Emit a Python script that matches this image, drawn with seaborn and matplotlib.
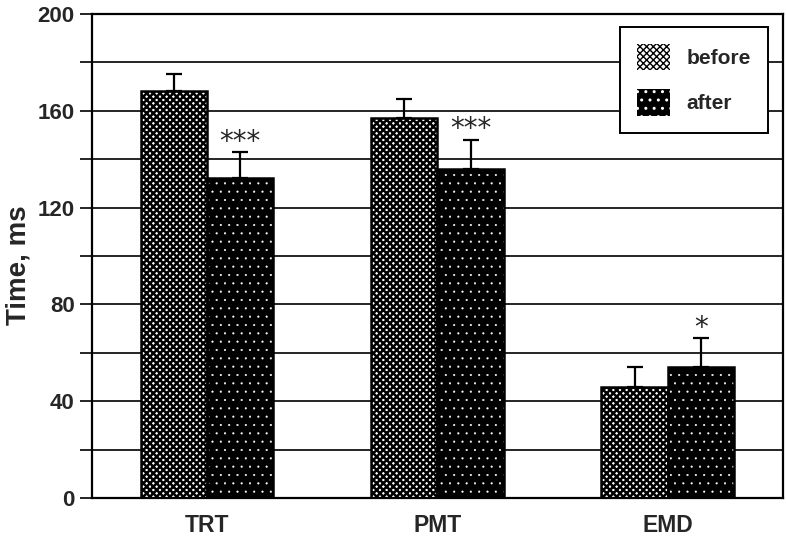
import pandas as pd
import matplotlib.pyplot as plt
import matplotlib.patches as mpatches
import seaborn as sns

measures = ["TRT", "PMT", "EMD"]
conditions = ["before", "after"]
before_means = [168, 157, 46]
after_means = [132, 136, 54]
before_err = [7, 8, 8]
after_err = [11, 12, 12]
stars = ["***", "***", "*"]

data = pd.DataFrame({
    "measure": measures * 2,
    "condition": ["before"] * 3 + ["after"] * 3,
    "time": before_means + after_means,
    "err": before_err + after_err,
})

sns.set_style("white")
plt.rcParams["font.family"] = ["Liberation Sans", "DejaVu Sans"]
plt.rcParams["font.weight"] = "bold"


def style_before(p):
    p.set_facecolor("white")
    p.set_edgecolor("black")
    p.set_hatch("xxxxx")
    if hasattr(p, "set_hatch_linewidth"):
        p.set_hatch_linewidth(1.8)


def style_after(p):
    p.set_facecolor("black")
    p.set_edgecolor("white")
    p.set_hatch("..")
    if hasattr(p, "set_hatch_linewidth"):
        p.set_hatch_linewidth(0.3)


fig = plt.figure(figsize=(7.86, 5.36), dpi=100)
ax = fig.add_axes([0.117, 0.071, 0.879, 0.903])

sns.barplot(data=data, x="measure", y="time", hue="condition", hue_order=conditions,
            order=measures, width=0.575, gap=0, palette=["white", "black"],
            errorbar=None, legend=False, ax=ax, zorder=2)

before_bars = ax.containers[0]
after_bars = ax.containers[1]

for p in before_bars:
    style_before(p)
    p.set_linewidth(0)
for p in after_bars:
    style_after(p)
    p.set_linewidth(0)

# black outlines drawn from each patch's own geometry
for p in list(before_bars) + list(after_bars):
    outline = mpatches.Rectangle(p.get_xy(), p.get_width(), p.get_height(),
                                 fill=False, edgecolor="black", linewidth=1.8, zorder=3)
    ax.add_patch(outline)

# upward error bars only
for bars, errs in [(before_bars, before_err), (after_bars, after_err)]:
    xs = [p.get_x() + p.get_width() / 2 for p in bars]
    ys = [p.get_height() for p in bars]
    ax.errorbar(xs, ys, yerr=[[0] * len(errs), errs], fmt="none", ecolor="black",
                elinewidth=1.6, capsize=6, capthick=1.6, zorder=4)

for p, e, s in zip(after_bars, after_err, stars):
    ax.text(p.get_x() + p.get_width() / 2, p.get_height() + e - 1.5, s,
            ha="center", va="bottom", fontsize=20, fontweight="normal",
            family="DejaVu Sans")

ax.set_ylim(0, 200)
ax.set_xlim(-0.5, 2.5)
ax.set_yticks(range(0, 201, 40))
ax.set_yticks(range(20, 200, 40), minor=True)
ax.yaxis.grid(True, which="both", color="black", linewidth=1.2, zorder=0)
ax.set_axisbelow(True)
ax.tick_params(axis="y", which="both", left=True, length=9, width=1.2, color="black",
               labelsize=16)
ax.tick_params(axis="x", bottom=False, labelsize=16.5, pad=8)
for lab in ax.get_xticklabels() + ax.get_yticklabels():
    lab.set_fontweight("bold")
for sp in ax.spines.values():
    sp.set_color("black")
    sp.set_linewidth(1.6)

ax.set_xlabel("")
ax.set_ylabel("Time, ms", fontsize=20, fontweight="bold")
ax.yaxis.set_label_coords(-0.088, 0.48)

h1 = mpatches.Patch(linewidth=0)
style_before(h1)
h2 = mpatches.Patch(linewidth=0)
style_after(h2)
leg = ax.legend([h1, h2], conditions, loc="upper right", bbox_to_anchor=(0.978, 0.973),
                borderaxespad=0, frameon=True, fancybox=False, edgecolor="black",
                framealpha=1, fontsize=15, handlelength=1.6, handleheight=1.6,
                borderpad=0.8, labelspacing=0.9, handletextpad=0.8)
leg.get_frame().set_linewidth(1.4)
for t in leg.get_texts():
    t.set_fontweight("bold")

fig.savefig("out.png", dpi=100)
